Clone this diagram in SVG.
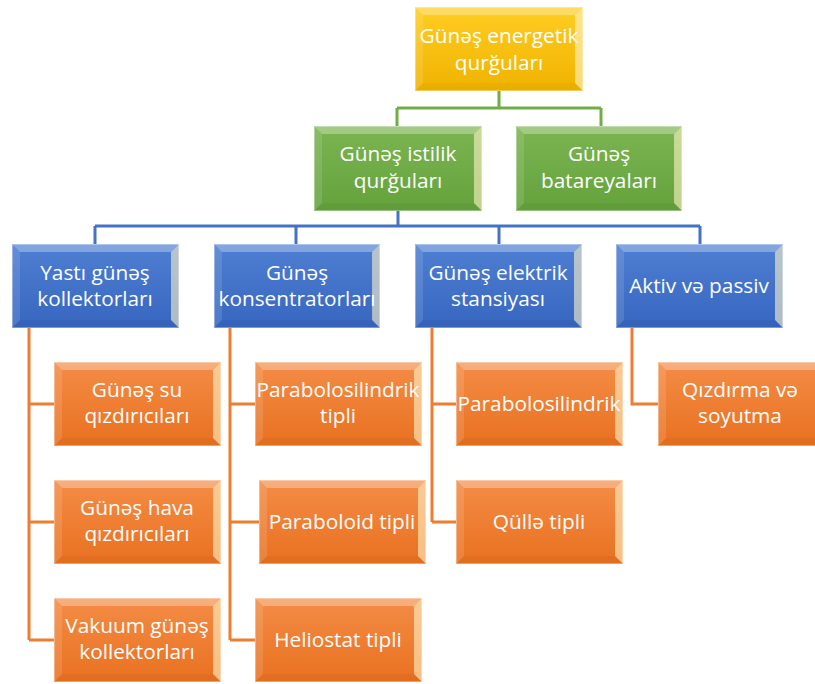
<svg xmlns="http://www.w3.org/2000/svg" width="815" height="684" viewBox="0 0 815 684">
<style>
.t{font-family:"Open Sans","Noto Sans","DejaVu Sans",sans-serif;font-size:20.8px;fill:#ffffff;text-anchor:middle}
.cg{stroke:#70AD47;stroke-width:3;fill:none}
.cb{stroke:#4472C4;stroke-width:3;fill:none}
.co{stroke:#ED7D31;stroke-width:3;fill:none}
</style>
<defs>
<linearGradient id="gGold" x1="0" y1="0" x2="0" y2="1"><stop offset="0" stop-color="#FFCD22"/><stop offset="1" stop-color="#F0B300"/></linearGradient>
<linearGradient id="gGreen" x1="0" y1="0" x2="0" y2="1"><stop offset="0" stop-color="#7BB552"/><stop offset="1" stop-color="#64A23C"/></linearGradient>
<linearGradient id="gBlue" x1="0" y1="0" x2="0" y2="1"><stop offset="0" stop-color="#4F7FD2"/><stop offset="1" stop-color="#3766C0"/></linearGradient>
<linearGradient id="gOrange" x1="0" y1="0" x2="0" y2="1"><stop offset="0" stop-color="#F48C46"/><stop offset="1" stop-color="#E97120"/></linearGradient>
<symbol id="bevel" viewBox="0 0 167 84" preserveAspectRatio="none">
<polygon points="0,0 167,0 159,8 8,8" fill="#ffffff" fill-opacity="0.3"/>
<polygon points="167,0 167,84 159,76 159,8" fill="#FFF4C8" fill-opacity="0.6"/>
<polygon points="0,0 8,8 8,76 0,84" fill="#ffffff" fill-opacity="0.12"/>
<polygon points="0,84 8,76 159,76 167,84" fill="#000000" fill-opacity="0.03"/>
<rect x="0.5" y="0.5" width="166" height="83" fill="none" stroke="#ffffff" stroke-opacity="0.35" stroke-width="1"/>
</symbol>
</defs>
<rect width="815" height="684" fill="#ffffff"/>
<g id="connectors">
<path class="cg" d="M499 91V108M397 108H601M397 108V126M601 108V126"/>
<path class="cb" d="M398 211V226M95 226H700M95 226V244M296 226V244M499 226V244M700 226V244"/>
<path class="co" d="M29 328V640M29 404H54M29 522H54M29 640H54"/>
<path class="co" d="M230 328V640M230 404H255M230 522H259M230 640H255"/>
<path class="co" d="M432 328V522M432 404H456M432 522H456"/>
<path class="co" d="M632 328V404H658"/>
</g>
<g id="n_top"><rect x="415" y="7" width="168" height="84" fill="url(#gGold)"/><use href="#bevel" x="415" y="7" width="168" height="84"/><text class="t" x="499" y="43">Günəş energetik</text><text class="t" x="499" y="70">qurğuları</text></g>
<g id="n_istilik"><rect x="314" y="126" width="168" height="85" fill="url(#gGreen)"/><use href="#bevel" x="314" y="126" width="168" height="85"/><text class="t" x="398" y="161">Günəş istilik</text><text class="t" x="398" y="188">qurğuları</text></g>
<g id="n_batareya"><rect x="516" y="126" width="166" height="85" fill="url(#gGreen)"/><use href="#bevel" x="516" y="126" width="166" height="85"/><text class="t" x="599" y="161">Günəş</text><text class="t" x="599" y="188">batareyaları</text></g>
<g id="n_yasti"><rect x="12" y="244" width="167" height="84" fill="url(#gBlue)"/><use href="#bevel" x="12" y="244" width="167" height="84"/><text class="t" x="95" y="280">Yastı günəş</text><text class="t" x="95" y="306">kollektorları</text></g>
<g id="n_konsentrator"><rect x="214" y="244" width="166" height="84" fill="url(#gBlue)"/><use href="#bevel" x="214" y="244" width="166" height="84"/><text class="t" x="297" y="280">Günəş</text><text class="t" x="297" y="306">konsentratorları</text></g>
<g id="n_elektrik"><rect x="415" y="244" width="167" height="84" fill="url(#gBlue)"/><use href="#bevel" x="415" y="244" width="167" height="84"/><text class="t" x="498" y="280">Günəş elektrik</text><text class="t" x="498" y="306">stansiyası</text></g>
<g id="n_aktiv"><rect x="616" y="244" width="167" height="84" fill="url(#gBlue)"/><use href="#bevel" x="616" y="244" width="167" height="84"/><text class="t" x="699" y="293">Aktiv və passiv</text></g>
<g id="n_su"><rect x="54" y="362" width="167" height="84" fill="url(#gOrange)"/><use href="#bevel" x="54" y="362" width="167" height="84"/><text class="t" x="137" y="397">Günəş su</text><text class="t" x="137" y="423">qızdırıcıları</text></g>
<g id="n_hava"><rect x="54" y="480" width="167" height="84" fill="url(#gOrange)"/><use href="#bevel" x="54" y="480" width="167" height="84"/><text class="t" x="137" y="515">Günəş hava</text><text class="t" x="137" y="541">qızdırıcıları</text></g>
<g id="n_vakuum"><rect x="54" y="598" width="167" height="84" fill="url(#gOrange)"/><use href="#bevel" x="54" y="598" width="167" height="84"/><text class="t" x="137" y="633">Vakuum günəş</text><text class="t" x="137" y="659">kollektorları</text></g>
<g id="n_parsil1"><rect x="255" y="362" width="167" height="84" fill="url(#gOrange)"/><use href="#bevel" x="255" y="362" width="167" height="84"/><text class="t" x="338" y="397">Parabolosilindrik</text><text class="t" x="338" y="423">tipli</text></g>
<g id="n_paraboloid"><rect x="259" y="480" width="167" height="84" fill="url(#gOrange)"/><use href="#bevel" x="259" y="480" width="167" height="84"/><text class="t" x="342" y="529">Paraboloid tipli</text></g>
<g id="n_heliostat"><rect x="255" y="598" width="167" height="84" fill="url(#gOrange)"/><use href="#bevel" x="255" y="598" width="167" height="84"/><text class="t" x="338" y="647">Heliostat tipli</text></g>
<g id="n_parsil2"><rect x="456" y="362" width="167" height="84" fill="url(#gOrange)"/><use href="#bevel" x="456" y="362" width="167" height="84"/><text class="t" x="539" y="411">Parabolosilindrik</text></g>
<g id="n_qulle"><rect x="456" y="480" width="167" height="84" fill="url(#gOrange)"/><use href="#bevel" x="456" y="480" width="167" height="84"/><text class="t" x="539" y="529">Qüllə tipli</text></g>
<g id="n_qizdirma"><rect x="658" y="362" width="167" height="84" fill="url(#gOrange)"/><use href="#bevel" x="658" y="362" width="167" height="84"/><text class="t" x="740" y="397">Qızdırma və</text><text class="t" x="740" y="423">soyutma</text></g>
</svg>
